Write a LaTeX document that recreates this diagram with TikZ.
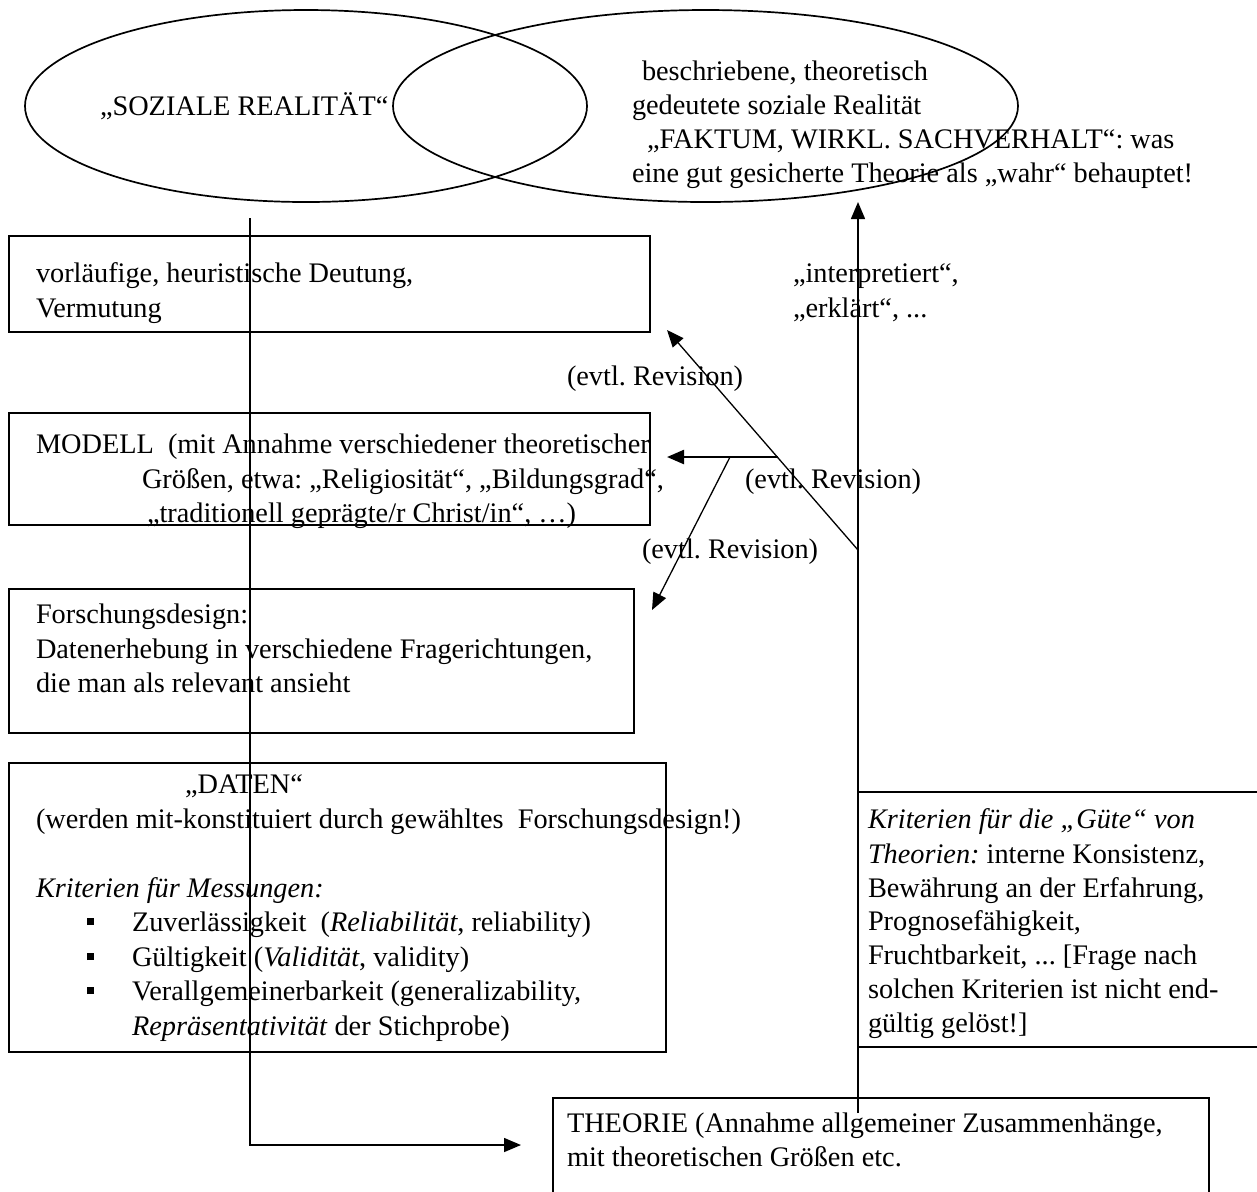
\documentclass[tikz,border=0pt]{standalone}
\usepackage{fontspec}
\setmainfont{Liberation Serif}
\usetikzlibrary{shapes.geometric,fit,arrows.meta}
\frenchspacing
\begin{document}
\frenchspacing
\begin{tikzpicture}[x=0.5pt,y=-0.5pt,
  txt/.style={anchor=base west, inner sep=0pt, outer sep=0pt, font=\fontsize{14.15}{17}\selectfont\frenchspacing},
  box/.style={draw, line width=1pt, inner sep=0pt, rectangle},
  ell/.style={draw, ellipse, line width=0.85pt, inner sep=0pt},
  conn/.style={line width=0.75pt},
  arr/.style={conn, -{Triangle[length=8.5pt,width=7pt]}},
  thickarr/.style={line width=1.2pt, -{Triangle[length=8.5pt,width=7pt]}},
]
\useasboundingbox (0,0) rectangle (1257,1191);

% ellipses
\node[ell, minimum width=281pt, minimum height=96pt] (e1) at (306,106) {};
\node[ell, minimum width=312.5pt, minimum height=96pt] (e2) at (705.5,106) {};
\node[txt] (soz) at (100,115) {„SOZIALE REALITÄT“};
\node[txt] (r1) at (642,80) {beschriebene, theoretisch};
\node[txt] (r2) at (632,114) {gedeutete soziale Realität};
\node[txt] (r3) at (647,148) {„FAKTUM, WIRKL. SACHVERHALT“: was};
\node[txt] (r4) at (632,182) {eine gut gesicherte Theorie als „wahr“ behauptet!};

% box 1
\node[box, fit={(9,236) (650,332)}] (b1) {};
\node[txt] (b1a) at (36,282) {vorläufige, heuristische Deutung,};
\node[txt] (b1b) at (36,317) {Vermutung};
\node[txt] (int1) at (793,282) {„interpretiert“,};
\node[txt] (int2) at (793,317) {„erklärt“, ...};
\node[txt] (rev1) at (567,385) {(evtl. Revision)};

% box 2
\node[box, fit={(9,413) (650,525)}] (b2) {};
\node[txt] (b2a) at (36,453) {MODELL\ \ (mit Annahme verschiedener theoretischer};
\node[txt] (b2b) at (142,488) {Größen, etwa: „Religiosität“, „Bildungsgrad“,};
\node[txt] (b2c) at (147,522) {„traditionell geprägte/r Christ/in“, …)};
\node[txt] (rev2) at (745,488) {(evtl. Revision)};
\node[txt] (rev3) at (642,558) {(evtl. Revision)};

% box 3
\node[box, fit={(9,589) (634,733)}] (b3) {};
\node[txt] (b3a) at (36,623) {Forschungsdesign:};
\node[txt] (b3b) at (36,658) {Datenerhebung in verschiedene Fragerichtungen,};
\node[txt] (b3c) at (36,692) {die man als relevant ansieht};

% box 4
\node[box, fit={(9,763) (666,1052)}] (b4) {};
\node[txt] (b4a) at (185,793) {„DATEN“};
\node[txt] (b4b) at (36,828) {(werden mit-konstituiert durch gewähltes\ \ Forschungsdesign!)};
\node[txt] (b4c) at (36,897) {\itshape Kriterien für Messungen:};
\node[txt] (bu1) at (87,931) {\rule[3pt]{3.4pt}{3.4pt}};
\node[txt] (bu2) at (87,966) {\rule[3pt]{3.4pt}{3.4pt}};
\node[txt] (bu3) at (87,1000) {\rule[3pt]{3.4pt}{3.4pt}};
\node[txt] (b4d) at (132,931) {Zuverlässigkeit\ \ (\textit{Reliabilität}, reliability)};
\node[txt] (b4e) at (132,966) {Gültigkeit (\textit{Validität}, validity)};
\node[txt] (b4f) at (132,1000) {Verallgemeinerbarkeit (generalizability,};
\node[txt] (b4g) at (132,1035) {\textit{Repräsentativität} der Stichprobe)};

% box 5
\node[box, fit={(858,792) (1266,1047)}] (b5) {};
\node[txt] (b5a) at (868,828) {\itshape Kriterien für die „Güte“ von};
\node[txt] (b5b) at (868,863) {\textit{Theorien:} interne Konsistenz,};
\node[txt] (b5c) at (868,897) {Bewährung an der Erfahrung,};
\node[txt] (b5d) at (868,930) {Prognosefähigkeit,};
\node[txt] (b5e) at (868,964) {Fruchtbarkeit, ... [Frage nach};
\node[txt] (b5f) at (868,998) {solchen Kriterien ist nicht end-};
\node[txt] (b5g) at (868,1032) {gültig gelöst!]};

% THEORIE box
\node[box, fit={(553,1098) (1209,1200)}] (theo) {};
\node[txt] (th1) at (567,1132) {THEORIE (Annahme allgemeiner Zusammenhänge,};
\node[txt] (th2) at (567,1166) {mit theoretischen Größen etc.};

% connectors
\coordinate (L0) at (250,218);
\coordinate (L1) at (250,1145);
\coordinate (L2) at (521,1145);
\draw[arr] (L0) -- (L1) -- (L2);

\coordinate (R0) at (858,1113);
\coordinate (R1) at (858,202);
\draw[arr] (R0) -- (R1);

\coordinate (D0) at (858,550);
\coordinate (D1) at (667,330);
\draw[arr, line width=0.65pt] (D0) -- (D1);

\coordinate (H0) at (778,457);
\coordinate (H1) at (667,457);
\draw[thickarr] (H0) -- (H1);

\coordinate (S0) at (730,457);
\coordinate (S1) at (652,610);
\draw[arr, line width=0.65pt] (S0) -- (S1);
\end{tikzpicture}
\end{document}
